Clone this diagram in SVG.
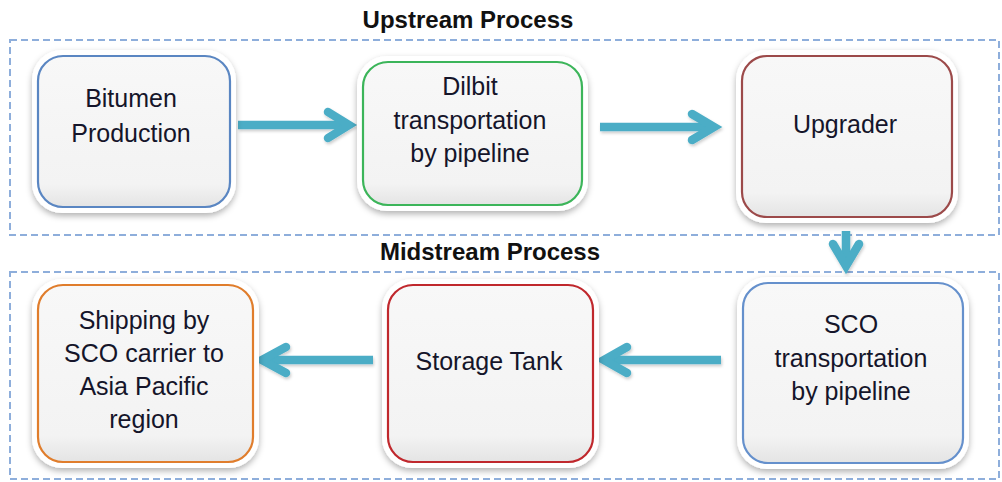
<svg xmlns="http://www.w3.org/2000/svg" width="1002" height="482" viewBox="0 0 1002 482">
  <style>
    .frame { fill: none; stroke: #8eaedb; stroke-width: 2; stroke-dasharray: 7 4; }
    .title { font-family: "Liberation Sans", Arial, sans-serif; font-size: 24px; font-weight: bold; fill: #111; text-anchor: middle; }
    .mat { fill: #ffffff; filter: url(#shadow); }
    .card { fill: url(#cardFill); stroke-width: 2.2; }
    .label { font-family: "Liberation Sans", Arial, sans-serif; font-size: 25px; fill: #15152a; text-anchor: middle; }
    .flow { fill: none; stroke: #4badc6; stroke-width: 8.5; stroke-linejoin: miter; stroke-miterlimit: 4; filter: url(#arrowShadow); }
    .head { stroke-linecap: round; }
  </style>
  <defs>
    <linearGradient id="cardFill" x1="0" y1="0" x2="0" y2="1">
      <stop offset="0" stop-color="#f8f8f8"/>
      <stop offset="0.85" stop-color="#f3f3f3"/>
      <stop offset="1" stop-color="#e4e4e4"/>
    </linearGradient>
    <filter id="shadow" x="-10%" y="-10%" width="120%" height="125%">
      <feDropShadow dx="0" dy="3" stdDeviation="3" flood-color="#000" flood-opacity="0.3"/>
    </filter>
    <filter id="arrowShadow" x="-20%" y="-30%" width="140%" height="160%">
      <feDropShadow dx="1" dy="2" stdDeviation="1.5" flood-color="#000" flood-opacity="0.2"/>
    </filter>
  </defs>

  <rect width="1002" height="482" fill="#ffffff"/>

  <!-- process frames -->
  <rect class="frame" x="10" y="40" width="989" height="195"/>
  <rect class="frame" x="10" y="272" width="989" height="207"/>
  <text class="title" x="468" y="28">Upstream Process</text>
  <text class="title" x="490" y="260">Midstream Process</text>

  <!-- connectors -->
  <g id="connectors">
    <g class="flow">
      <path d="M238 125 H346"/>
      <path class="head" d="M328 112 L349 125 L328 138"/>
      <path d="M600 127 H712"/>
      <path class="head" d="M692 114 L714 127 L692 140"/>
      <path d="M846 231 V263"/>
      <path class="head" d="M833 244 L846 266 L859 244"/>
      <path d="M721 360 H606"/>
      <path class="head" d="M627 347 L604 360 L627 373"/>
      <path d="M373 360 H264"/>
      <path class="head" d="M286 347 L262 360 L286 373"/>
    </g>
  </g>

  <g id="bitumen-production">
    <rect class="mat" x="32" y="50" width="204" height="163" rx="30"/>
    <rect class="card" x="38" y="56" width="192" height="151" rx="25" stroke="#5a86c2"/>
    <text class="label" x="131" y="107">Bitumen</text>
    <text class="label" x="131" y="142">Production</text>
  </g>

  <g id="dilbit-pipeline">
    <rect class="mat" x="357" y="56" width="231" height="155" rx="30"/>
    <rect class="card" x="363" y="62" width="219" height="143" rx="25" stroke="#3cb55a"/>
    <text class="label" x="470" y="95">Dilbit</text>
    <text class="label" x="470" y="129">transportation</text>
    <text class="label" x="470" y="162">by pipeline</text>
  </g>

  <g id="upgrader">
    <rect class="mat" x="736" y="50" width="222" height="173" rx="30"/>
    <rect class="card" x="742" y="56" width="210" height="161" rx="25" stroke="#9c4a4a"/>
    <text class="label" x="845" y="133">Upgrader</text>
  </g>

  <g id="sco-pipeline">
    <rect class="mat" x="737" y="277" width="232" height="192" rx="30"/>
    <rect class="card" x="743" y="283" width="220" height="180" rx="25" stroke="#6590cc"/>
    <text class="label" x="851" y="333">SCO</text>
    <text class="label" x="851" y="367">transportation</text>
    <text class="label" x="851" y="400">by pipeline</text>
  </g>

  <g id="storage-tank">
    <rect class="mat" x="382" y="279" width="217" height="189" rx="30"/>
    <rect class="card" x="388" y="285" width="205" height="177" rx="25" stroke="#c0282d"/>
    <text class="label" x="489" y="370">Storage Tank</text>
  </g>

  <g id="shipping-asia-pacific">
    <rect class="mat" x="32" y="279" width="227" height="189" rx="30"/>
    <rect class="card" x="38" y="285" width="215" height="177" rx="25" stroke="#e07d2c"/>
    <text class="label" x="144" y="329">Shipping by</text>
    <text class="label" x="144" y="362">SCO carrier to</text>
    <text class="label" x="144" y="395">Asia Pacific</text>
    <text class="label" x="144" y="428">region</text>
  </g>
</svg>
